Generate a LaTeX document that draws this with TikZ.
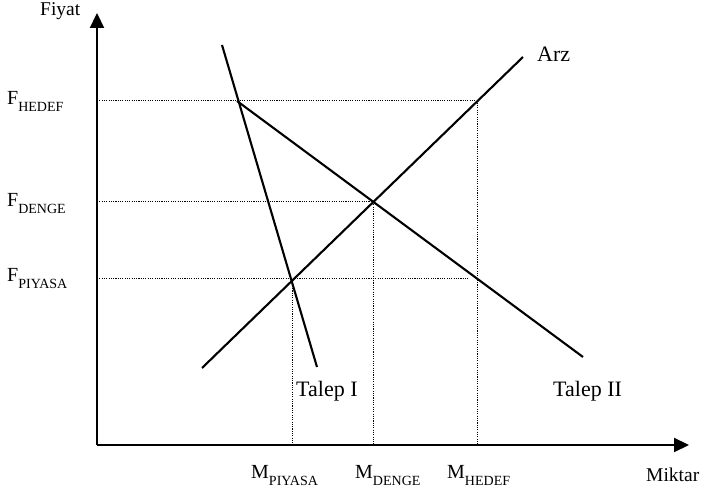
\documentclass[tikz,border=0pt]{standalone}
\usepackage{fontspec}
\setmainfont{Liberation Serif}
\usetikzlibrary{arrows.meta}
\newcommand{\sublab}[2]{#1\raisebox{-6.5pt}{\fontsize{14}{15}\selectfont #2}}
\begin{document}
\begin{tikzpicture}[x=1pt,y=-1pt,
  axis/.style={line width=2.2pt,-{Triangle[length=15pt,width=14pt]}},
  curve/.style={line width=2.1pt},
  guide/.style={line width=1pt,dash pattern=on 1.1pt off 1.2pt},
  lbl/.style={inner sep=0pt,anchor=base west,font=\fontsize{22}{24}\selectfont},
  axlbl/.style={inner sep=0pt,anchor=base west,font=\fontsize{19.5}{21}\selectfont},
  sublbl/.style={inner sep=0pt,anchor=base west,font=\fontsize{20}{22}\selectfont}]
\useasboundingbox (0,0) rectangle (705,494);
% key points
\coordinate (o) at (97,445);
\coordinate (ytip) at (97,13);
\coordinate (xtip) at (689,445);
\coordinate (a1) at (202,368);
\coordinate (a2) at (523,57);
\coordinate (t1) at (222,45);
\coordinate (t2) at (317,367);
\coordinate (s1) at (237,101);
\coordinate (s2) at (583,357);
\coordinate (h) at (477,101);
\coordinate (d) at (373,202);
\coordinate (p) at (292,279);
\coordinate (hy) at (97,101);
\coordinate (dy) at (97,202);
\coordinate (py) at (97,279);
\coordinate (hx) at (477,445);
\coordinate (dx) at (373,445);
\coordinate (px) at (292,445);
\coordinate (pend) at (469,279);
% guides
\draw[guide] (hy) -- (h) -- (hx);
\draw[guide] (dy) -- (d) -- (dx);
\draw[guide] (py) -- (pend);
\draw[guide] (p) -- (px);
% axes
\draw[axis] (o) -- (ytip);
\draw[axis] (o) -- (xtip);
% curves
\draw[curve] (a1) -- (a2);
\draw[curve] (t1) -- (t2);
\draw[curve] (s1) -- (s2);
% labels
\node[axlbl] (fiyat) at (40,16) {Fiyat};
\node[axlbl] (miktar) at (646,482) {Miktar};
\node[lbl] (arz) at (537,62) {Arz};
\node[lbl] (talep1) at (296,397) {Talep I};
\node[lbl] (talep2) at (553,397) {Talep II};
\node[sublbl] (fh) at (7,105) {\sublab{F}{HEDEF}};
\node[sublbl] (fd) at (7,207) {\sublab{F}{DENGE}};
\node[sublbl] (fp) at (7,282) {\sublab{F}{PIYASA}};
\node[sublbl] (mp) at (251,479) {\sublab{M}{PIYASA}};
\node[sublbl] (md) at (355,479) {\sublab{M}{DENGE}};
\node[sublbl] (mh) at (447,479) {\sublab{M}{HEDEF}};
\end{tikzpicture}
\end{document}
